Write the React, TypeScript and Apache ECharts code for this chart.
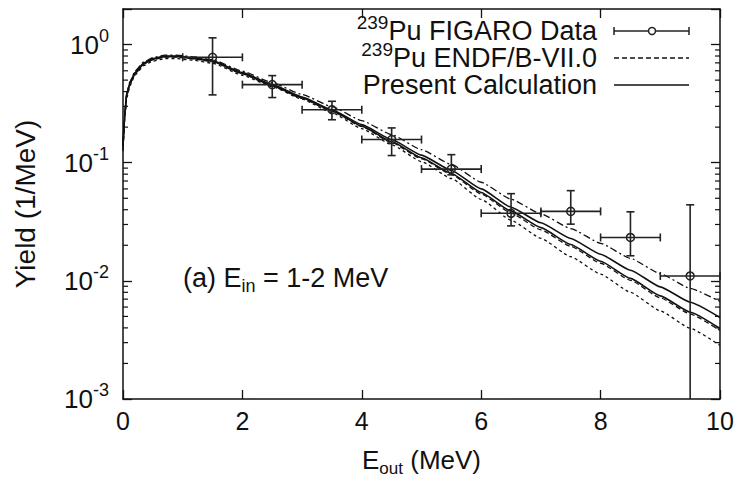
import React, { useEffect, useRef } from 'react';
import * as echarts from 'echarts';

// ---------- data ----------
const E_GRID = [0, 0.03, 0.06, 0.12, 0.2, 0.35, 0.5, 0.7, 0.9, 1.2, 1.5, 2, 2.5, 3, 3.5, 4, 4.5, 5, 5.5, 6, 6.5, 7, 7.5, 8, 8.5, 9, 9.5, 10];

// Present Calculation (two solid curves)
const PRESENT_A = [0.14, 0.26, 0.38, 0.48, 0.58, 0.70, 0.76, 0.80, 0.80, 0.77, 0.73, 0.58, 0.458, 0.36, 0.281, 0.21, 0.157, 0.116, 0.086, 0.060, 0.042, 0.031, 0.0228, 0.0168, 0.0123, 0.0089, 0.0066, 0.0049];
const PRESENT_B = [0.135, 0.25, 0.37, 0.47, 0.57, 0.69, 0.75, 0.79, 0.79, 0.76, 0.72, 0.57, 0.449, 0.353, 0.276, 0.204, 0.151, 0.110, 0.0811, 0.056, 0.0389, 0.0282, 0.0203, 0.01465, 0.0105, 0.00746, 0.00543, 0.00395];

// ENDF/B-VII.0 (upper, central, lower)
const ENDF_UPPER = [0.145, 0.265, 0.39, 0.49, 0.595, 0.715, 0.775, 0.815, 0.815, 0.785, 0.745, 0.595, 0.476, 0.378, 0.298, 0.227, 0.173, 0.1288, 0.0967, 0.0683, 0.0491, 0.0369, 0.0277, 0.0208, 0.0155, 0.0115, 0.00863, 0.0067];
const ENDF_MID = [0.13, 0.245, 0.365, 0.465, 0.565, 0.685, 0.745, 0.785, 0.785, 0.755, 0.715, 0.565, 0.445, 0.35, 0.273, 0.202, 0.148, 0.108, 0.0795, 0.0544, 0.0374, 0.027, 0.0196, 0.0141, 0.0101, 0.00718, 0.00524, 0.0038];
const ENDF_LOWER = [0.125, 0.235, 0.35, 0.45, 0.55, 0.665, 0.725, 0.76, 0.76, 0.735, 0.695, 0.55, 0.44, 0.345, 0.265, 0.194, 0.142, 0.1022, 0.0735, 0.0489, 0.0326, 0.0229, 0.016, 0.0114, 0.008, 0.00557, 0.00397, 0.00284];

// 239Pu FIGARO data
const FIGARO_E = [1.5, 2.5, 3.5, 4.5, 5.5, 6.5, 7.5, 8.5, 9.5];
const FIGARO_BIN_LO = [1, 2, 3, 4, 5, 6, 7, 8, 9];
const FIGARO_BIN_HI = [2, 3, 4, 5, 6, 7, 8, 9, 10];
const FIGARO_Y = [0.78, 0.458, 0.281, 0.157, 0.0883, 0.0373, 0.0387, 0.0233, 0.011];
const FIGARO_Y_LO = [0.375, 0.356, 0.231, 0.115, 0.079, 0.0292, 0.0302, 0.0163, 0];
const FIGARO_Y_HI = [1.14, 0.546, 0.331, 0.197, 0.117, 0.0547, 0.058, 0.0384, 0.044];

// axes
const X_MIN = 0;
const X_MAX = 10;
const X_INTERVAL = 2;
const Y_MIN = 0.001;
const Y_MAX = 2;
const Y_DECADES = [0.001, 0.01, 0.1, 1];
const Y_DECADE_LABELS = ['-3', '-2', '-1', '0'];
const MINOR_MULTIPLIERS = [2, 3, 4, 5, 6, 7, 8, 9];

const FONT = '"Liberation Sans", Arial, Helvetica, sans-serif';
const INK = '#111';

export default function App() {
  const ref = useRef<HTMLDivElement>(null);

  useEffect(() => {
    if (!ref.current) return;
    const chart = echarts.init(ref.current, null, { renderer: 'svg' });

    const pairs = (ys: number[]) => E_GRID.map((e, i) => [e, ys[i]]);
    const curve = (name: string, ys: number[], type: any, width: number) => ({
      type: 'line',
      name,
      data: pairs(ys),
      symbol: 'none',
      showSymbol: false,
      smooth: 0.15,
      smoothMonotone: 'x',
      silent: true,
      z: 3,
      lineStyle: { color: INK, width, type },
    });

    const minorTicks: number[] = [];
    Y_DECADES.forEach((d) => {
      MINOR_MULTIPLIERS.forEach((m) => {
        const v = d * m;
        if (v < Y_MAX) minorTicks.push(v);
      });
    });

    const axisLine = { show: true, onZero: false, lineStyle: { color: INK, width: 1.5 } };
    const tick = { show: true, inside: true, length: 9, lineStyle: { color: INK, width: 1.3 } };

    const yLabel = (v: number) => {
      const idx = Y_DECADES.findIndex((d) => Math.abs(d - v) < d * 1e-6);
      if (idx < 0) return '';
      return `{b|10}{s|${Y_DECADE_LABELS[idx]}}`;
    };

    const option: any = {
      animation: false,
      backgroundColor: '#fff',
      textStyle: { fontFamily: FONT },
      grid: { left: 123, right: 20, top: 9, bottom: 83 },
      xAxis: [
        {
          type: 'value', min: X_MIN, max: X_MAX, interval: X_INTERVAL, position: 'bottom',
          axisLine, axisTick: tick, splitLine: { show: false },
          axisLabel: { color: INK, fontSize: 25, fontFamily: FONT, margin: 9 },
          name: '{n|E}{sub|out}{n| (MeV)}',
          nameLocation: 'middle',
          nameGap: 44,
          nameTextStyle: {
            rich: {
              n: { fontSize: 26, fontFamily: FONT, color: INK, lineHeight: 34 },
              sub: { fontSize: 17, fontFamily: FONT, color: INK, lineHeight: 16, verticalAlign: 'bottom' },
            },
          },
        },
        {
          type: 'value', min: X_MIN, max: X_MAX, interval: X_INTERVAL, position: 'top',
          axisLine, axisTick: tick, splitLine: { show: false }, axisLabel: { show: false },
        },
      ],
      yAxis: [
        {
          type: 'log', logBase: 10, min: Y_MIN, max: Y_MAX, position: 'left',
          axisLine, axisTick: tick, splitLine: { show: false },
          axisLabel: {
            formatter: yLabel,
            margin: 14,
            rich: {
              b: { fontSize: 26, fontFamily: FONT, color: INK, lineHeight: 36 },
              s: { fontSize: 18, fontFamily: FONT, color: INK, lineHeight: 16, verticalAlign: 'top' },
            },
          },
          name: 'Yield (1/MeV)',
          nameLocation: 'middle',
          nameRotate: 90,
          nameGap: 84,
          nameTextStyle: { fontSize: 28, fontFamily: FONT, color: INK },
        },
        {
          type: 'log', logBase: 10, min: Y_MIN, max: Y_MAX, position: 'right',
          axisLine, axisTick: tick, splitLine: { show: false }, axisLabel: { show: false },
        },
      ],
      series: [
        curve('239Pu ENDF/B-VII.0 upper', ENDF_UPPER, [7, 3, 2, 3], 1.3),
        curve('239Pu ENDF/B-VII.0', ENDF_MID, [5, 3], 1.3),
        curve('239Pu ENDF/B-VII.0 lower', ENDF_LOWER, [3, 3], 1.3),
        curve('Present Calculation', PRESENT_A, 'solid', 1.6),
        curve('Present Calculation 2', PRESENT_B, 'solid', 1.6),
        {
          type: 'custom',
          name: '239Pu FIGARO Data',
          silent: true,
          z: 4,
          data: FIGARO_E.map((e, i) => [e, FIGARO_Y[i], FIGARO_Y_LO[i], FIGARO_Y_HI[i], FIGARO_BIN_LO[i], FIGARO_BIN_HI[i]]),
          encode: { x: 0, y: 1 },
          renderItem: (params: any, api: any) => {
            const cs = params.coordSys;
            const bottomPx = cs.y + cs.height;
            const x = api.value(0);
            const y = api.value(1);
            const lo = api.value(2);
            const hi = api.value(3);
            const xl = api.value(4);
            const xh = api.value(5);
            const c = api.coord([x, y]);
            const left = api.coord([xl, y])[0];
            const right = api.coord([xh, y])[0];
            const top = api.coord([x, hi])[1];
            const bot = lo > Y_MIN ? api.coord([x, lo])[1] : bottomPx;
            const st = { stroke: '#222', lineWidth: 1.6, fill: null };
            const cap = 4;
            const ln = (x1: number, y1: number, x2: number, y2: number) => ({ type: 'line', shape: { x1, y1, x2, y2 }, style: st });
            return {
              type: 'group',
              children: [
                ln(left, c[1], right, c[1]),
                ln(left, c[1] - cap, left, c[1] + cap),
                ln(right, c[1] - cap, right, c[1] + cap),
                ln(c[0], top, c[0], bot),
                ln(c[0] - cap, top, c[0] + cap, top),
                lo > Y_MIN ? ln(c[0] - cap, bot, c[0] + cap, bot) : ln(c[0], bot, c[0], bot),
                { type: 'circle', shape: { cx: c[0], cy: c[1], r: 4 }, style: { stroke: '#222', lineWidth: 1.5, fill: 'transparent' } },
              ],
            };
          },
        },
        {
          type: 'custom',
          name: 'minor ticks',
          silent: true,
          z: 5,
          data: minorTicks.map((v) => [X_MIN, v]),
          encode: { x: 0, y: 1 },
          renderItem: (params: any, api: any) => {
            const cs = params.coordSys;
            const py = api.coord([X_MIN, api.value(1)])[1];
            const st = { stroke: INK, lineWidth: 1.2 };
            return {
              type: 'group',
              children: [
                { type: 'line', shape: { x1: cs.x, y1: py, x2: cs.x + 5, y2: py }, style: st },
                { type: 'line', shape: { x1: cs.x + cs.width, y1: py, x2: cs.x + cs.width - 5, y2: py }, style: st },
              ],
            };
          },
        },
      ],
      graphic: [
        {
          type: 'text', x: 597, y: 31, z: 10,
          style: {
            text: '{s|239}{n|Pu FIGARO Data}', align: 'right', verticalAlign: 'middle',
            rich: {
              n: { fontSize: 27, fontFamily: FONT, fill: INK, lineHeight: 36 },
              s: { fontSize: 19, fontFamily: FONT, fill: INK, lineHeight: 16, verticalAlign: 'top' },
            },
          },
        },
        {
          type: 'text', x: 597, y: 58, z: 10,
          style: {
            text: '{s|239}{n|Pu ENDF/B-VII.0}', align: 'right', verticalAlign: 'middle',
            rich: {
              n: { fontSize: 27, fontFamily: FONT, fill: INK, lineHeight: 36 },
              s: { fontSize: 19, fontFamily: FONT, fill: INK, lineHeight: 16, verticalAlign: 'top' },
            },
          },
        },
        {
          type: 'text', x: 597, y: 85, z: 10,
          style: { text: 'Present Calculation', align: 'right', verticalAlign: 'middle', fontSize: 27, fontFamily: FONT, fill: INK },
        },
        // legend samples
        { type: 'line', z: 10, shape: { x1: 614, y1: 31, x2: 689, y2: 31 }, style: { stroke: '#222', lineWidth: 1.5 } },
        { type: 'line', z: 10, shape: { x1: 614, y1: 27, x2: 614, y2: 35 }, style: { stroke: '#222', lineWidth: 1.5 } },
        { type: 'line', z: 10, shape: { x1: 689, y1: 27, x2: 689, y2: 35 }, style: { stroke: '#222', lineWidth: 1.5 } },
        { type: 'circle', z: 10, shape: { cx: 652, cy: 31, r: 3.5 }, style: { stroke: '#222', lineWidth: 1.5, fill: '#fff' } },
        { type: 'line', z: 10, shape: { x1: 614, y1: 58, x2: 689, y2: 58 }, style: { stroke: INK, lineWidth: 1.3, lineDash: [5, 3] } },
        { type: 'line', z: 10, shape: { x1: 614, y1: 85, x2: 689, y2: 85 }, style: { stroke: INK, lineWidth: 1.6 } },
        // annotation
        {
          type: 'text', x: 183, y: 278, z: 10,
          style: {
            text: '{n|(a) E}{sub|in}{n| = 1-2 MeV}', align: 'left', verticalAlign: 'middle',
            rich: {
              n: { fontSize: 27, fontFamily: FONT, fill: INK, lineHeight: 34 },
              sub: { fontSize: 18, fontFamily: FONT, fill: INK, lineHeight: 16, verticalAlign: 'bottom' },
            },
          },
        },
      ],
    };

    chart.setOption(option);
    return () => chart.dispose();
  }, []);

  return (
    <div
      ref={ref}
      style={{ position: 'fixed', left: 0, top: 0, width: 740, height: 482, background: '#fff' }}
    />
  );
}
